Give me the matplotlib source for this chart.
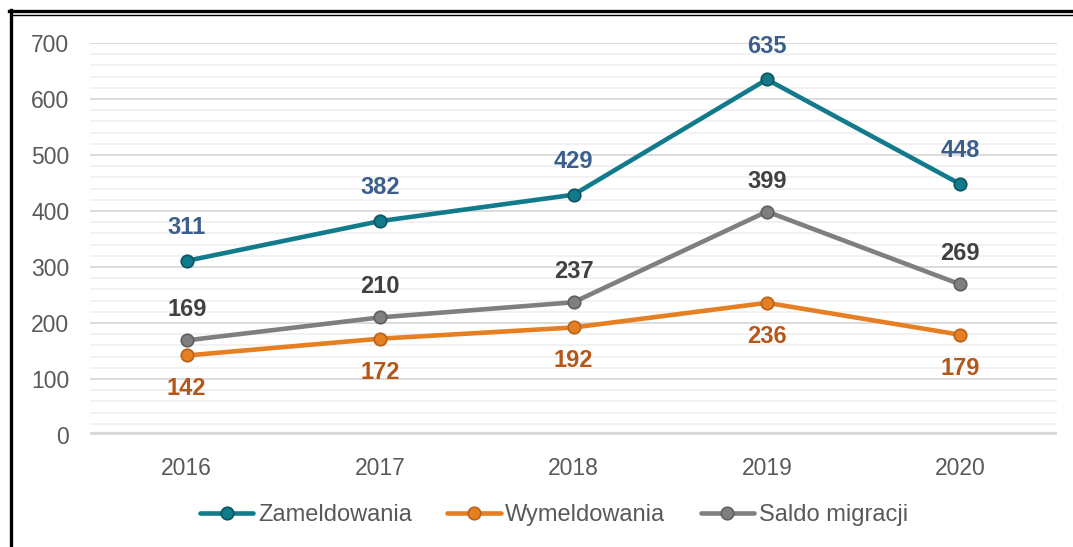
import matplotlib
matplotlib.use("Agg")
import matplotlib.pyplot as plt
from matplotlib.lines import Line2D
from matplotlib.ticker import MultipleLocator

plt.rcParams['font.family'] = ['Liberation Sans', 'DejaVu Sans']

years = ["2016", "2017", "2018", "2019", "2020"]
zameldowania = [311, 382, 429, 635, 448]
wymeldowania = [142, 172, 192, 236, 179]
saldo = [169, 210, 237, 399, 269]

series = [
    ("Zameldowania", zameldowania, "#117A8B", "#0B5563", "#3B5F8A", 24),
    ("Wymeldowania", wymeldowania, "#E67E22", "#B9621A", "#B5561A", -24),
    ("Saldo migracji", saldo, "#7F7F7F", "#5F5F5F", "#404040", 22),
]

W, H = 1073, 547
fig = plt.figure(figsize=(W / 100, H / 100), dpi=100)
ax = fig.add_axes([90 / W, (H - 435) / H, (1057 - 90) / W, 392 / H])

x = list(range(len(years)))
for name, vals, col, edge, lcol, off in series:
    ax.plot(x, vals, color=col, lw=3.3, marker='o', markersize=9,
            markerfacecolor=col, markeredgecolor=edge, markeredgewidth=1.2,
            label=name, zorder=3, solid_capstyle='round')
    for xi, v in zip(x, vals):
        ax.annotate(str(v), (xi, v), xytext=(0, off), textcoords='offset points',
                    ha='center', va='center', fontsize=17, fontweight='bold',
                    color=lcol, zorder=4)

ax.set_xlim(-0.5, len(years) - 0.5)
ax.set_ylim(0, 700)
ax.set_xticks(x)
ax.set_xticklabels(years)
ax.yaxis.set_major_locator(MultipleLocator(100))
ax.yaxis.set_minor_locator(MultipleLocator(20))
ax.grid(which='major', axis='y', color='#D9D9D9', lw=1.3, zorder=0)
ax.grid(which='minor', axis='y', color='#EDEDED', lw=1.1, zorder=0)
ax.axhline(0, color='#D9D9D9', lw=4.5, zorder=1)
for s in ax.spines.values():
    s.set_visible(False)
ax.tick_params(axis='both', which='both', length=0, labelsize=16.5, labelcolor='#595959')
ax.tick_params(axis='y', pad=15)
ax.tick_params(axis='x', pad=16)

leg = fig.legend(loc='center', bbox_to_anchor=(554 / W, (H - 515) / H), ncol=3,
                 frameon=False, fontsize=17, handlelength=2.25, columnspacing=1.5,
                 handletextpad=0.2)
for t in leg.get_texts():
    t.set_color('#595959')

# frame lines around the figure (top double, left thick)
fig.add_artist(Line2D([9 / W, 1], [1 - 11 / H, 1 - 11 / H], transform=fig.transFigure,
                      color='black', lw=2.4))
fig.add_artist(Line2D([12 / W, 1], [1 - 14.5 / H, 1 - 14.5 / H], transform=fig.transFigure,
                      color='black', lw=1.0))
fig.add_artist(Line2D([10.5 / W, 10.5 / W], [1 - 10 / H, 0], transform=fig.transFigure,
                      color='black', lw=2.4))

fig.savefig("out.png", dpi=100)
